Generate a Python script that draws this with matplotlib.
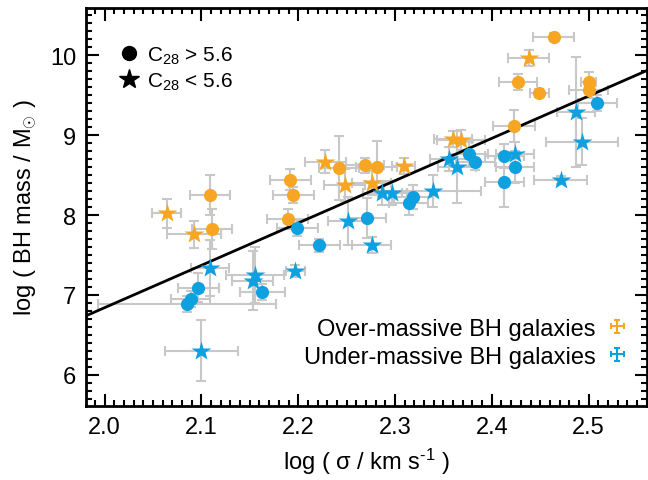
import numpy as np
import matplotlib
matplotlib.use('Agg')
import matplotlib.pyplot as plt
from matplotlib.lines import Line2D
from matplotlib.legend_handler import HandlerErrorbar

plt.rcParams['font.family'] = ['Liberation Sans', 'DejaVu Sans']
plt.rcParams['mathtext.fontset'] = 'custom'
plt.rcParams['mathtext.rm'] = 'Liberation Sans'
plt.rcParams['mathtext.it'] = 'Liberation Sans:italic'

ORANGE = '#F6A623'
BLUE = '#0FA0DF'
GREY = '#C8C8C8'

# over-massive, C28 > 5.6 (circles)
oc_sig = [2.109, 2.111, 2.192, 2.195, 2.189, 2.242, 2.269, 2.281, 2.423, 2.427, 2.449, 2.464, 2.500, 2.500]
oc_m = [8.25, 7.82, 8.44, 8.25, 7.95, 8.59, 8.62, 8.60, 9.12, 9.67, 9.53, 10.23, 9.67, 9.57]
oc_xe = [0.021, 0.021, 0.021, 0.021, 0.021, 0.021, 0.020, 0.021, 0.022, 0.020, 0.010, 0.021, 0.008, 0.020]
oc_ye = [0.25, 0.25, 0.13, 0.10, 0.12, 0.40, 0.10, 0.33, 0.20, 0.10, 0.05, 0.05, 0.12, 0.10]

# over-massive, C28 < 5.6 (stars)
os_sig = [2.064, 2.092, 2.228, 2.248, 2.276, 2.309, 2.360, 2.368, 2.438]
os_m = [8.02, 7.76, 8.67, 8.38, 8.40, 8.61, 8.95, 8.94, 9.96]
os_xe = [0.015, 0.028, 0.021, 0.021, 0.020, 0.012, 0.020, 0.025, 0.021]
os_ye = [0.18, 0.17, 0.15, 0.20, 0.15, 0.10, 0.10, 0.12, 0.10]

# under-massive, C28 > 5.6 (circles)
uc_sig = [2.085, 2.089, 2.097, 2.163, 2.199, 2.222, 2.271, 2.314, 2.319, 2.376, 2.383, 2.413, 2.424, 2.413, 2.509]
uc_m = [6.89, 6.95, 7.09, 7.04, 7.84, 7.62, 7.96, 8.15, 8.23, 8.76, 8.66, 8.74, 8.60, 8.41, 9.40]
uc_xe = [0.092, 0.020, 0.021, 0.023, 0.021, 0.021, 0.020, 0.020, 0.020, 0.020, 0.020, 0.020, 0.020, 0.020, 0.020]
uc_ye = [0.10, 0.10, 0.18, 0.10, 0.10, 0.08, 0.25, 0.15, 0.15, 0.15, 0.10, 0.15, 0.20, 0.31, 0.10]

# under-massive, C28 < 5.6 (stars)
us_sig = [2.100, 2.109, 2.155, 2.153, 2.197, 2.251, 2.276, 2.287, 2.297, 2.339, 2.356, 2.364, 2.424, 2.471, 2.487, 2.493]
us_m = [6.30, 7.34, 7.25, 7.18, 7.30, 7.93, 7.62, 8.27, 8.28, 8.30, 8.70, 8.60, 8.76, 8.44, 9.29, 8.92]
us_xe = [0.038, 0.020, 0.030, 0.021, 0.010, 0.020, 0.020, 0.020, 0.015, 0.050, 0.020, 0.020, 0.020, 0.027, 0.020, 0.037]
us_ye = [0.38, 0.35, 0.35, 0.37, 0.08, 0.30, 0.10, 0.15, 0.15, 0.20, 0.15, 0.45, 0.15, 0.05, 0.69, 0.30]

# M-sigma relation
slope, pivot, zero = 5.30, 2.30, 8.43

fig = plt.figure(figsize=(6.48, 4.81), dpi=100)
ax = fig.add_axes([0.133, 0.154, 0.865, 0.827])

groups = [(oc_sig, oc_m, oc_xe, oc_ye, ORANGE, 'o', 9.5),
          (os_sig, os_m, os_xe, os_ye, ORANGE, '*', 14.5),
          (uc_sig, uc_m, uc_xe, uc_ye, BLUE, 'o', 9.5),
          (us_sig, us_m, us_xe, us_ye, BLUE, '*', 14.5)]

for sig, m, xe, ye, col, mk, ms in groups:
    ax.errorbar(sig, m, xerr=xe, yerr=ye, fmt='none', ecolor=GREY,
                elinewidth=1.5, capsize=3.5, capthick=1.5, zorder=1)

xs = np.array([1.95, 2.6])
ax.plot(xs, zero + slope * (xs - pivot), color='k', lw=2, zorder=2)

for sig, m, xe, ye, col, mk, ms in groups:
    ax.plot(sig, m, ls='none', marker=mk, ms=ms, color=col, mec='none', zorder=3)

ax.set_xlim(1.981, 2.557)
ax.set_ylim(5.61, 10.59)
ax.set_xticks([2.0, 2.1, 2.2, 2.3, 2.4, 2.5])
ax.set_yticks([6, 7, 8, 9, 10])
ax.set_xticks(np.arange(1.99, 2.56, 0.01), minor=True)
ax.set_yticks(np.arange(5.7, 10.6, 0.1), minor=True)
ax.tick_params(which='both', direction='in', top=True, right=True, labelsize=17, width=1.5)
ax.tick_params(which='major', length=9, pad=7)
ax.tick_params(which='minor', length=4.5)
for s in ax.spines.values():
    s.set_linewidth(2)

ax.set_xlabel('log ( σ / km s$^{\u2010 1}$ )', fontsize=17, labelpad=6)
ax.set_ylabel(r'log ( BH mass / M$_{\odot}$ )', fontsize=17, labelpad=8)

shape_handles = [Line2D([], [], ls='none', marker='o', ms=10, color='k'),
                 Line2D([], [], ls='none', marker='*', ms=15, color='k')]
leg1 = ax.legend(shape_handles, ['C$_{28}$ > 5.6', 'C$_{28}$ < 5.6'], loc='upper left',
                 frameon=False, fontsize=15, handletextpad=0.3, handlelength=1.2,
                 labelspacing=0.2, bbox_to_anchor=(0.02, 0.955))
ax.add_artist(leg1)

h_over = ax.errorbar([np.nan], [np.nan], xerr=[0.01], yerr=[0.1], fmt='none', ecolor=ORANGE,
                     elinewidth=1.5, capsize=2.5, capthick=1.5)
h_under = ax.errorbar([np.nan], [np.nan], xerr=[0.01], yerr=[0.1], fmt='none', ecolor=BLUE,
                      elinewidth=1.5, capsize=2.5, capthick=1.5)
ax.legend([h_over, h_under], ['Over-massive BH galaxies', 'Under-massive BH galaxies'],
          loc='lower right', frameon=False, fontsize=17, markerfirst=False,
          handlelength=0.6, handletextpad=0.6, labelspacing=0.25,
          bbox_to_anchor=(0.998, 0.043),
          handler_map={type(h_over): HandlerErrorbar(xerr_size=0.28, yerr_size=0.28)})

fig.savefig('out.png', dpi=100)
